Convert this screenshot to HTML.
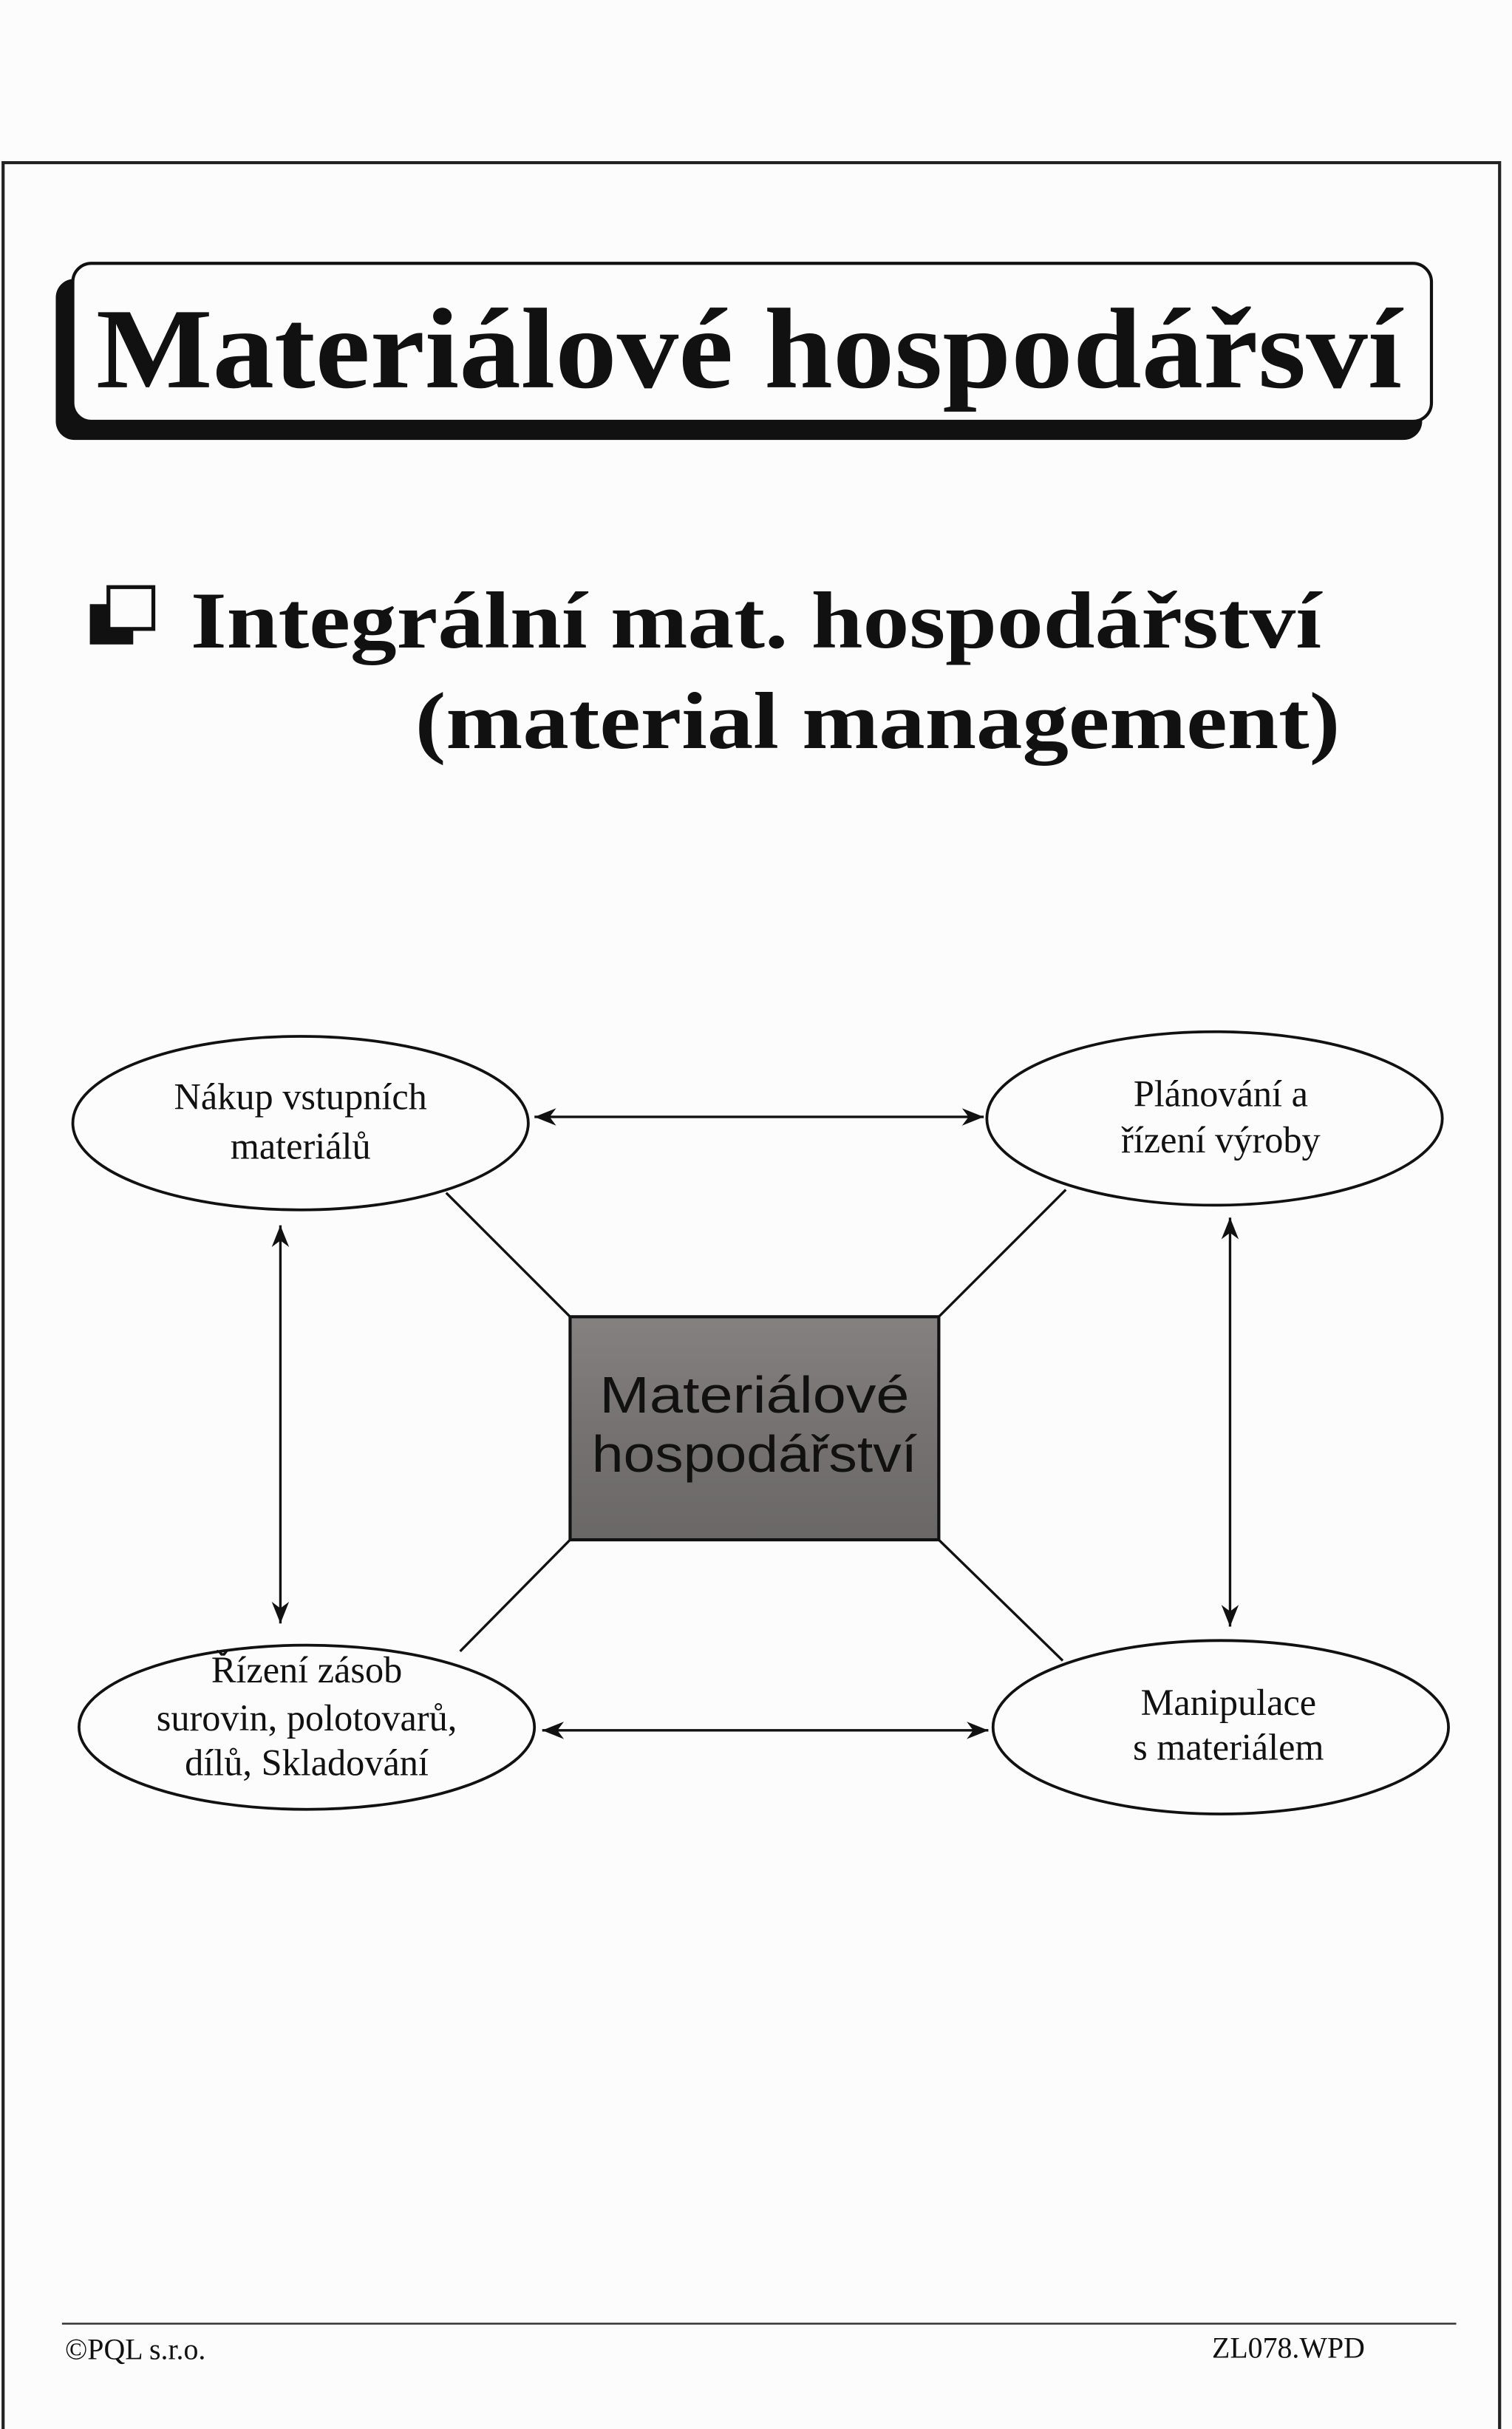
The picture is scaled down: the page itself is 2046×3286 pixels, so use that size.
<!DOCTYPE html>
<html><head><meta charset="utf-8"><style>
html,body{margin:0;padding:0;background:#fcfcfd;}
svg{display:block;}
</style></head><body>
<svg width="2046" height="3286" viewBox="0 0 976 1568" preserveAspectRatio="none" xmlns="http://www.w3.org/2000/svg">
<defs>
<marker id="a" viewBox="0 0 10 10" refX="10" refY="5" markerWidth="16" markerHeight="14" orient="auto-start-reverse" markerUnits="userSpaceOnUse"><path d="M0,1 L10,5 L0,9 L3,5 z" fill="#111"/></marker>
<linearGradient id="g" x1="0" y1="0" x2="0" y2="1"><stop offset="0" stop-color="#858181"/><stop offset="0.5" stop-color="#767272"/><stop offset="1" stop-color="#6a6767"/></linearGradient>
</defs>
<rect width="976" height="1568" fill="#fcfcfd"/>
<path d="M2,1568 L2,105 L968,105 L968,1568" fill="none" stroke="#222" stroke-width="2"/>
<rect x="36" y="180" width="882" height="104" rx="12" fill="#111"/>
<rect x="47" y="170" width="877" height="102" rx="12" fill="#fcfcfd" stroke="#111" stroke-width="2"/>
<text x="62" y="250" font-family="Liberation Serif, serif" font-weight="bold" font-size="74" textLength="843" lengthAdjust="spacingAndGlyphs" fill="#111">Materiálové hospodářsví</text>
<rect x="58" y="390" width="28" height="26" fill="#111"/>
<rect x="70" y="379" width="29" height="27" fill="#fcfcfd" stroke="#111" stroke-width="2.5"/>
<text x="123" y="418" font-family="Liberation Serif, serif" font-weight="bold" font-size="52" textLength="730" lengthAdjust="spacingAndGlyphs" fill="#111">Integrální mat. hospodářství</text>
<text x="268" y="483" font-family="Liberation Serif, serif" font-weight="bold" font-size="52" textLength="597" lengthAdjust="spacingAndGlyphs" fill="#111">(material management)</text>
<g stroke="#111" stroke-width="1.6" fill="none">
<line x1="288" y1="770" x2="368" y2="850"/>
<line x1="688" y1="768" x2="606" y2="850"/>
<line x1="297" y1="1066" x2="368" y2="994"/>
<line x1="686" y1="1072" x2="606" y2="994"/>
<line x1="345" y1="721" x2="635" y2="721" marker-start="url(#a)" marker-end="url(#a)"/>
<line x1="350" y1="1117" x2="638" y2="1117" marker-start="url(#a)" marker-end="url(#a)"/>
<line x1="181" y1="791" x2="181" y2="1048" marker-start="url(#a)" marker-end="url(#a)"/>
<line x1="794" y1="786" x2="794" y2="1050" marker-start="url(#a)" marker-end="url(#a)"/>
</g>
<g fill="#fcfcfd" stroke="#111" stroke-width="1.8">
<ellipse cx="194" cy="725" rx="147" ry="56"/>
<ellipse cx="784" cy="722" rx="147" ry="56"/>
<ellipse cx="198" cy="1115" rx="147" ry="53"/>
<ellipse cx="788" cy="1115" rx="147" ry="56"/>
</g>
<rect x="368" y="850" width="238" height="144" fill="url(#g)" stroke="#111" stroke-width="2"/>
<g font-family="Liberation Sans, sans-serif" font-size="33" fill="#111" text-anchor="middle">
<text x="487" y="912" textLength="200" lengthAdjust="spacingAndGlyphs">Materiálové</text>
<text x="487" y="950" textLength="210" lengthAdjust="spacingAndGlyphs">hospodářství</text>
</g>
<g font-family="Liberation Serif, serif" font-size="24" fill="#111" text-anchor="middle">
<text x="194" y="716">Nákup vstupních</text>
<text x="194" y="748">materiálů</text>
<text x="788" y="714">Plánování a</text>
<text x="788" y="744">řízení výroby</text>
<text x="198" y="1086">Řízení zásob</text>
<text x="198" y="1117">surovin, polotovarů,</text>
<text x="198" y="1146">dílů, Skladování</text>
<text x="793" y="1107">Manipulace</text>
<text x="793" y="1136">s materiálem</text>
</g>
<line x1="40" y1="1500" x2="940" y2="1500" stroke="#333" stroke-width="1.2"/>
<text x="42" y="1523" font-family="Liberation Serif, serif" font-size="19" fill="#111">©PQL s.r.o.</text>
<text x="881" y="1522" font-family="Liberation Serif, serif" font-size="19" fill="#111" text-anchor="end">ZL078.WPD</text>
</svg>
</body></html>
